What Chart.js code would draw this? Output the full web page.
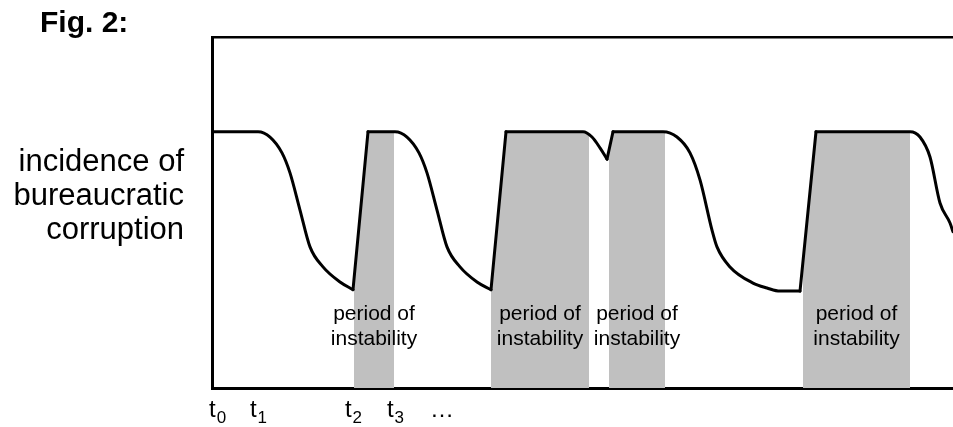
<!DOCTYPE html>
<html>
<head>
<meta charset="utf-8">
<script src="https://cdn.jsdelivr.net/npm/chart.js@4.4.0/dist/chart.umd.min.js"></script>
<style>
  html, body { margin: 0; padding: 0; background: #fff; }
  #wrap { width: 953px; height: 427px; position: relative; }
</style>
</head>
<body>
<div id="wrap"><canvas id="c"></canvas></div>
<script>
// ---- data (time in arbitrary units, incidence on a 0–100 scale) ----
const curveTime = [
  0, 9.2, 11.6, 14, 15.6, 17.6, 19.6, 22.2, 25.6, 28.2,
  31.2, 36.6, 39, 41.4, 43, 45, 47, 49.6, 53, 55.8,
  58.8, 74.2, 76, 77.6, 79,
  80.2, 90.2, 93, 95.6, 97.6, 100, 101, 103.6, 108.2, 111, 113.6, 117.6,
  120.8, 139.6, 141.6, 143.6, 145.6, 147.6, 148.2
];
const curveIncidence = [
  73, 73, 71.5, 67, 61.3, 50.7, 40.2, 34.5, 30.2, 28,
  73, 73, 71.5, 67, 61.3, 50.7, 40.2, 34.5, 30.2, 28,
  73, 73, 71.5, 68.4, 65.2,
  73, 73, 71.5, 67, 59.3, 45, 40.2, 34.5, 29.9, 28.5, 27.6, 27.6,
  73, 73, 71.5, 65.8, 52.7, 47, 44.5
];
// indices i where the curve jumps straight up from point i to point i+1
const abruptRise = [9, 19, 24, 36];
// periods of instability (shaded)
const periodStart = [28.4, 55.8, 79.4, 118.2];
const periodEnd = [36.4, 75.4, 90.6, 139.6];
const periodLabel = ['period of', 'instability'];
// x-axis tick marks: t with subscript index
const tickTime = [0, 9.2, 28.2, 36.6, 46];
const tickBase = ['t', 't', 't', 't', '…'];
const tickSub = ['0', '1', '2', '3', ''];
// y-axis label
const yLabel = ['incidence of', 'bureaucratic', 'corruption'];
const yLabelAt = 54.5;
const figTitle = 'Fig. 2:';

const FONT = '"Liberation Sans", Arial, Helvetica, sans-serif';
const X_MAX = 148.2, Y_MAX = 100;

// ---- build datasets from the arrays ----
const smoothPts = [];
curveTime.forEach((t, i) => {
  smoothPts.push({ x: t, y: curveIncidence[i] });
  if (abruptRise.includes(i)) smoothPts.push({ x: (t + curveTime[i + 1]) / 2, y: null });
});
const risePts = [];
abruptRise.forEach(i => {
  risePts.push({ x: curveTime[i], y: curveIncidence[i] });
  risePts.push({ x: curveTime[i + 1], y: curveIncidence[i + 1] });
  risePts.push({ x: curveTime[i + 1] + 0.005, y: null });
});
function interp(x) {
  for (let j = 0; j < curveTime.length - 1; j++) {
    if (x >= curveTime[j] && x <= curveTime[j + 1]) {
      const f = (x - curveTime[j]) / (curveTime[j + 1] - curveTime[j]);
      return curveIncidence[j] + f * (curveIncidence[j + 1] - curveIncidence[j]);
    }
  }
  return curveIncidence[curveIncidence.length - 1];
}
const bandSets = periodStart.map((s, k) => {
  const e = periodEnd[k];
  const pts = [{ x: s, y: interp(s) }];
  curveTime.forEach((t, i) => { if (t > s && t < e) pts.push({ x: t, y: curveIncidence[i] }); });
  pts.push({ x: e, y: interp(e) });
  return {
    data: pts, xAxisID: 'x', yAxisID: 'y', fill: 'origin', backgroundColor: '#c0c0c0',
    borderWidth: 0, pointRadius: 0, tension: 0, order: 5
  };
});

const textPlugin = {
  id: 'figText',
  afterDatasetsDraw(chart) {
    const { ctx, scales: { x, y } } = chart;
    ctx.save();
    ctx.fillStyle = '#000';
    ctx.textBaseline = 'alphabetic';
    // period labels
    ctx.textAlign = 'center';
    ctx.font = '21px ' + FONT;
    periodStart.forEach((s, k) => {
      const cx = x.getPixelForValue((s + periodEnd[k]) / 2);
      const y0 = y.getPixelForValue(19.4);
      ctx.fillText(periodLabel[0], cx, y0);
      ctx.fillText(periodLabel[1], cx, y0 + 25);
    });
    // x tick labels with subscripts
    ctx.textAlign = 'left';
    const baseFont = '24px ' + FONT, subFont = '17px ' + FONT;
    const baseY = x.top + 29;
    tickTime.forEach((v, i) => {
      ctx.font = baseFont;
      const w1 = ctx.measureText(tickBase[i]).width;
      ctx.font = subFont;
      const w2 = ctx.measureText(tickSub[i]).width;
      let left = x.getPixelForValue(v) - (w1 + w2) / 2;
      left = Math.max(left, x.left - 3);
      ctx.font = baseFont;
      ctx.fillText(tickBase[i], left, baseY);
      ctx.font = subFont;
      ctx.fillText(tickSub[i], left + w1 + 1, baseY + 6);
    });
    // figure title
    ctx.font = 'bold 30px ' + FONT;
    ctx.fillText(figTitle, 40, 32);
    ctx.restore();
  }
};

new Chart(document.getElementById('c'), {
  type: 'line',
  data: {
    datasets: [
      { data: smoothPts, xAxisID: 'x', yAxisID: 'y', borderColor: '#000', borderWidth: 3,
        pointRadius: 0, cubicInterpolationMode: 'monotone', spanGaps: false, fill: false,
        borderCapStyle: 'round', borderJoinStyle: 'round', order: 0 },
      { data: risePts, xAxisID: 'x', yAxisID: 'y', borderColor: '#000', borderWidth: 3,
        pointRadius: 0, tension: 0, spanGaps: false, fill: false,
        borderCapStyle: 'round', borderJoinStyle: 'round', order: 1 },
      ...bandSets
    ]
  },
  options: {
    responsive: true,
    maintainAspectRatio: false,
    animation: false,
    layout: { padding: { top: 37, left: 0, right: 0, bottom: 0 } },
    plugins: { legend: { display: false }, tooltip: { enabled: false }, title: { display: false } },
    scales: {
      x: {
        type: 'linear', position: 'bottom', min: 0, max: X_MAX,
        grid: { display: false, drawTicks: false },
        border: { display: true, width: 3, color: '#000' },
        afterBuildTicks: s => { s.ticks = tickTime.map(v => ({ value: v })); },
        afterFit: s => { s.height = 39; s.paddingLeft = 0; s.paddingRight = 0; },
        ticks: { display: false }
      },
      xTop: {
        type: 'linear', position: 'top', min: 0, max: X_MAX,
        grid: { display: false, drawTicks: false },
        border: { display: true, width: 2.5, color: '#000' },
        afterFit: s => { s.height = 0; s.paddingLeft = 0; s.paddingRight = 0; },
        ticks: { display: false }
      },
      y: {
        type: 'linear', position: 'left', min: 0, max: Y_MAX,
        grid: { display: false, drawTicks: false },
        border: { display: true, width: 3, color: '#000' },
        afterBuildTicks: s => { s.ticks = [{ value: yLabelAt }]; },
        afterFit: s => { s.width = 212; s.paddingTop = 0; s.paddingBottom = 0; },
        ticks: {
          padding: 28, color: '#000',
          font: { family: FONT, size: 31, lineHeight: 1.09 },
          callback: () => yLabel
        }
      }
    }
  },
  plugins: [textPlugin]
});
</script>
</body>
</html>
